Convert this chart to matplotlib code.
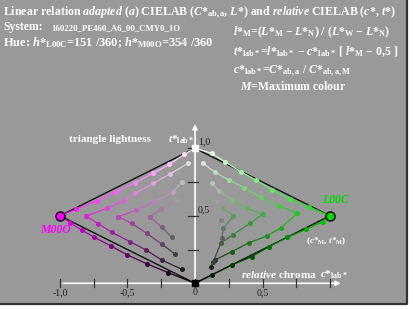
import matplotlib

matplotlib.use("Agg")
import matplotlib.pyplot as plt
import numpy as np

plt.rcParams["font.family"] = ["Liberation Serif", "DejaVu Serif"]
plt.rcParams["mathtext.fontset"] = "custom"
plt.rcParams["mathtext.rm"] = "Liberation Serif:bold"
plt.rcParams["mathtext.it"] = "Liberation Serif:bold:italic"
plt.rcParams["mathtext.bf"] = "Liberation Serif:bold"

# chevrons, each arm listed from the vertex outwards (c*, t*)
MAG_UP = [
    [(-1.0, 0.5), (-0.881, 0.548), (-0.724, 0.612), (-0.585, 0.679), (-0.444, 0.745), (-0.31, 0.815),
     (-0.19, 0.881), (-0.079, 0.955), (0.0, 1.0)],
    [(-0.807, 0.497), (-0.654, 0.555), (-0.53, 0.61), (-0.444, 0.667), (-0.309, 0.741), (-0.185, 0.81),
     (-0.05, 0.889)],
    [(-0.568, 0.493), (-0.44, 0.54), (-0.30, 0.605), (-0.165, 0.675), (-0.099, 0.748)],
    [(-0.333, 0.493), (-0.25, 0.55), (-0.136, 0.617)],
]
MAG_LO = [
    [(-1.0, 0.5), (-0.926, 0.449), (-0.84, 0.395), (-0.746, 0.341), (-0.622, 0.276), (-0.501, 0.21),
     (-0.353, 0.143), (-0.198, 0.079), (0.0, 0.0)],
    [(-0.807, 0.497), (-0.716, 0.441), (-0.614, 0.377), (-0.481, 0.308), (-0.363, 0.247), (-0.247, 0.173),
     (-0.099, 0.104)],
    [(-0.568, 0.493), (-0.469, 0.444), (-0.358, 0.37), (-0.247, 0.291), (-0.148, 0.217)],
    [(-0.333, 0.493), (-0.247, 0.415), (-0.173, 0.341)],
]
GRN_UP = [
    [(1.0, 0.5), (0.844, 0.567), (0.704, 0.624), (0.573, 0.691), (0.45, 0.765), (0.339, 0.827), (0.222, 0.90),
     (0.124, 0.963), (0.0, 1.0)],
    [(0.758, 0.519), (0.624, 0.573), (0.487, 0.637), (0.365, 0.708), (0.252, 0.765), (0.148, 0.822),
     (0.061, 0.889)],
    [(0.501, 0.511), (0.387, 0.556), (0.272, 0.617), (0.18, 0.684), (0.124, 0.741)],
    [(0.284, 0.499), (0.21, 0.556), (0.16, 0.605)],
    [(0.19, 0.469)],
]
GRN_LO = [
    [(1.0, 0.5), (0.95, 0.457), (0.822, 0.40), (0.684, 0.341), (0.548, 0.271), (0.42, 0.197), (0.272, 0.136),
     (0.124, 0.062), (0.0, 0.0)],
    [(0.758, 0.519), (0.635, 0.41), (0.531, 0.35), (0.402, 0.301), (0.272, 0.234), (0.148, 0.173),
     (0.116, 0.123)],
    [(0.501, 0.511), (0.407, 0.444), (0.279, 0.358), (0.19, 0.296), (0.136, 0.16)],
    [(0.284, 0.499), (0.21, 0.407), (0.198, 0.333)],
    [(0.19, 0.469)],
]

M_POINT = (-1.0, 0.5)
L_POINT = (1.0, 0.5)
W_POINT = (0.0, 1.0)
N_POINT = (0.0, 0.0)

X_TICKS = [-1.0, -0.75, -0.5, -0.25, 0.0, 0.25, 0.5, 0.75, 1.0]
X_LABELS = {-1.0: "-1,0", -0.5: "-0,5", 0.0: "0", 0.5: "0,5"}
Y_TICKS = [0.25, 0.5, 0.75, 1.0]
Y_LABELS = {0.5: "0,5", 1.0: "1,0"}

MAGENTA = np.array([1.0, 0.0, 1.0])
GREEN = np.array([0.0, 0.88, 0.0])
BG = "#999999"
W, H = 413, 309


def tone(hue, w, n):
    return np.clip((1 - (w + n) / 8) * hue + w / 8, 0, 1)


def draw_side(ax, upper, lower, hue):
    for k, (up, lo) in enumerate(zip(upper, lower)):
        for arm, upper_arm in [(up, True), (lo, False)]:
            cols = [tone(hue, k + j, k) if upper_arm else tone(hue, k, k + j) for j in range(len(arm))]
            xy = np.array(arm)
            for j in range(len(arm) - 1):
                ax.plot(xy[j:j + 2, 0], xy[j:j + 2, 1], color=(cols[j] + cols[j + 1]) / 2, lw=0.9, zorder=3)
            last = len(arm) - 1 if k == 0 else len(arm)
            for j in range(1 if k == 0 else 0, last):
                ax.plot(xy[j, 0], xy[j, 1], "o", ms=3.6, color=cols[j], mec="none", zorder=4)


def px(x, y):
    return x / W, 1 - y / H


fig = plt.figure(figsize=(W / 100, H / 100), dpi=100, facecolor="white")
fig.patches.append(plt.Rectangle((0, 1 - 304 / H), 406.5 / W, 304 / H, transform=fig.transFigure,
                                 facecolor=BG, edgecolor="none", zorder=-10))
fig.lines.append(plt.Line2D([406.5 / W, 406.5 / W, 0], [1, 1 - 304 / H, 1 - 304 / H],
                            transform=fig.transFigure, color="#333333", lw=1.6, zorder=-5))

ax = fig.add_axes([0, 0, 1, 1])
ax.set_xlim(-195 / 135, (W - 195) / 135)
ax.set_ylim(-(H - 283.3) / 135, 283.3 / 135)
ax.axis("off")

# axes
ax.annotate("", xy=(1.1, 0), xytext=(-1.0, 0), arrowprops=dict(arrowstyle="-|>", color="white", lw=1.2,
                                                                mutation_scale=7), zorder=2)
ax.annotate("", xy=(0, 1.2), xytext=(0, 0), arrowprops=dict(arrowstyle="-|>", color="white", lw=1.2,
                                                             mutation_scale=7), zorder=2)
for x in X_TICKS:
    ax.plot([x, x], [-0.03, 0.03], color="#333333", lw=0.9, zorder=2)
    if x in X_LABELS:
        ax.text(x, -0.07, X_LABELS[x], ha="center", va="center", fontsize=7, color="#222222")
for y in Y_TICKS:
    ax.plot([-0.055, 0.025], [y, y], color="#333333", lw=0.9, zorder=2)
    if y in Y_LABELS:
        ax.text(0.02, y + 0.045, Y_LABELS[y], ha="left", va="center", fontsize=7, color="#222222")

# triangles
for p in [M_POINT, L_POINT]:
    ax.plot([W_POINT[0], p[0], N_POINT[0]], [W_POINT[1], p[1], N_POINT[1]], color="black", lw=0.9, zorder=2)

draw_side(ax, MAG_UP, MAG_LO, MAGENTA)
draw_side(ax, GRN_UP, GRN_LO, GREEN)

ax.plot(*M_POINT, "o", ms=6.5, color=MAGENTA, mec="black", mew=1.0, zorder=5)
ax.plot(*L_POINT, "o", ms=6.5, color=GREEN, mec="black", mew=1.0, zorder=5)
ax.plot(*W_POINT, "s", ms=4, color="white", mec="white", zorder=5)
ax.plot(*N_POINT, "s", ms=5, color="black", zorder=5)

ax.text(-1.03, 0.395, "M00O", color="#ff00ff", fontsize=8.5, style="italic", weight="bold", ha="center",
        va="center")
ax.text(1.04, 0.615, "L00C", color="#00dd00", fontsize=8.5, style="italic", weight="bold", ha="center",
        va="center")
ax.text(0.975, 0.31, r"($c$*$_{\mathrm{M}}$, $t$*$_{\mathrm{M}}$)", color="white", fontsize=6.6, ha="center",
        va="center", weight="bold")

txt = dict(color="white", fontweight="bold", va="baseline")
FS = 8.5
fig.text(*px(69, 142.5), "triangle lightness", fontsize=8.1, **txt)
fig.text(*px(168, 142.5), r"$t$*$_{\mathrm{lab*}}$", fontsize=8.1, **txt)
fig.text(*px(241, 277.5), r"$\mathit{relative}$ chroma", fontsize=8.1, **txt)
fig.text(*px(320, 277.5), r"$c$*$_{\mathrm{lab*}}$", fontsize=8.1, **txt)

fig.text(*px(3, 16), r"Linear relation $\mathit{adapted\ (a)}$ CIELAB ($C$*$_{\mathrm{ab,a}}$, $L$*) and "
                     r"$\mathit{relative}$ CIELAB ($c$*, $t$*)", fontsize=8.55, **txt)
fig.text(*px(3, 30), "System:", fontsize=FS, **txt)
fig.text(*px(51, 30), "160220_PE460_A6_00_CMY0_1O", fontsize=6.3, **txt)
fig.text(*px(3, 46), r"Hue: $h$*$_{\mathrm{L00C}}$=151 /360; $h$*$_{\mathrm{M00O}}$=354 /360", fontsize=8.9,
         **txt)

fig.text(*px(233, 35), r"$l$*$_{\mathrm{M}}$=($L$*$_{\mathrm{M}}$ − $L$*$_{\mathrm{N}}$) / "
                       r"($L$*$_{\mathrm{W}}$ − $L$*$_{\mathrm{N}}$)", fontsize=FS, **txt)
fig.text(*px(233, 55), r"$t$*$_{\mathrm{lab*}}$=$l$*$_{\mathrm{lab*}}$ − $c$*$_{\mathrm{lab*}}$ "
                       r"[ $l$*$_{\mathrm{M}}$ − 0,5 ]", fontsize=FS, **txt)
fig.text(*px(233, 73.5), r"$c$*$_{\mathrm{lab*}}$=$C$*$_{\mathrm{ab,a}}$ / $C$*$_{\mathrm{ab,a,M}}$",
         fontsize=FS, **txt)
fig.text(*px(240, 90), r"$M$=Maximum colour", fontsize=FS, **txt)

fig.savefig("out.png", dpi=100, facecolor="white")
